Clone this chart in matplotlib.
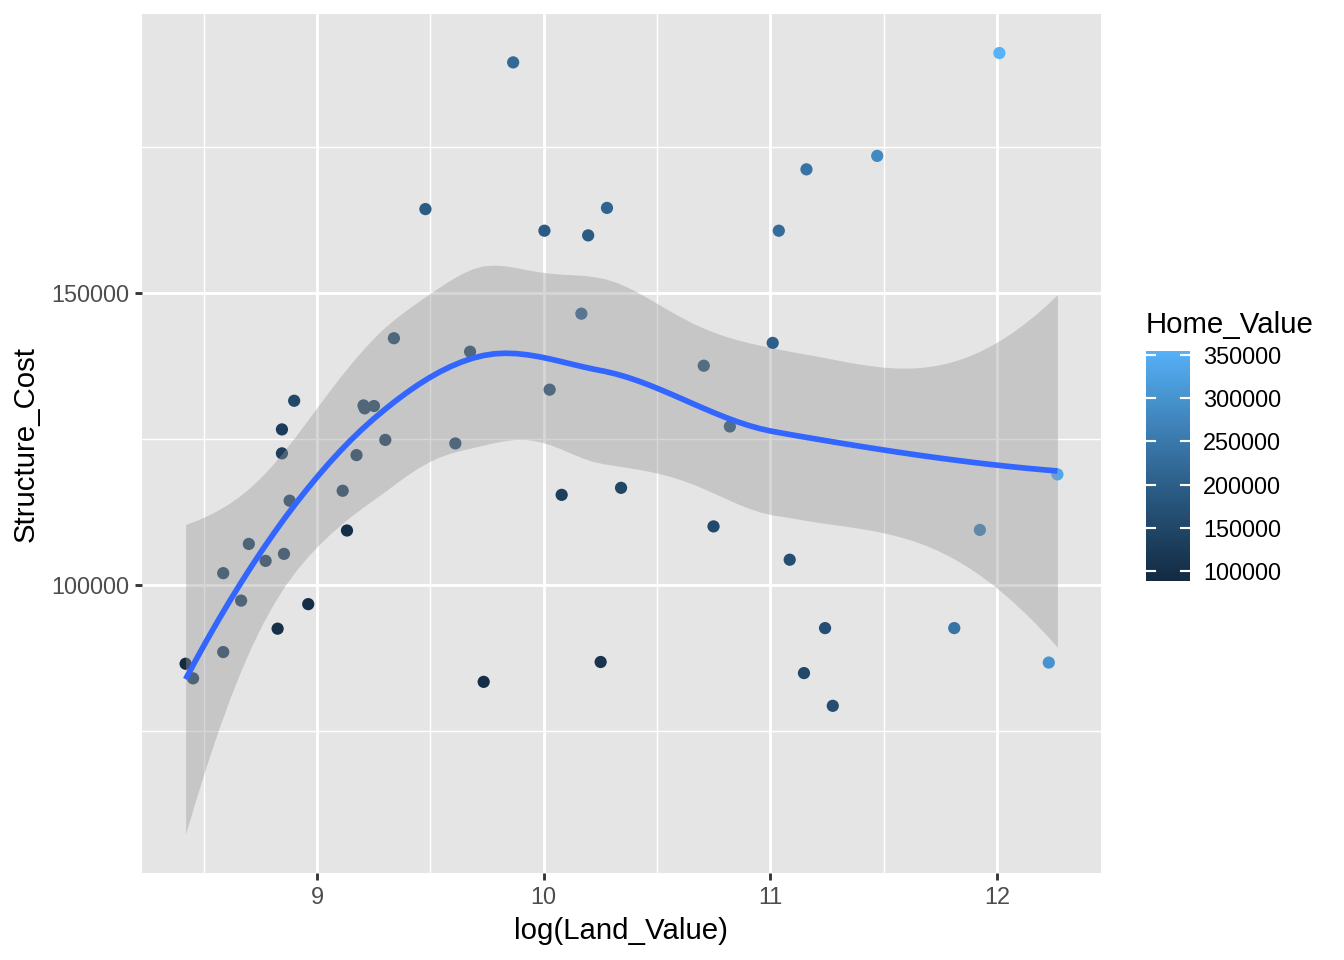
import numpy as np
import matplotlib
matplotlib.use("Agg")
import matplotlib.pyplot as plt
from matplotlib.colors import ListedColormap, Normalize

plt.rcParams['font.family'] = ['Liberation Sans', 'DejaVu Sans']

# values
land_log = [8.420, 8.453, 8.586, 8.586, 8.665, 8.699, 8.773, 8.826, 8.845, 8.845,
            8.854, 8.879, 8.899, 8.961, 9.113, 9.132, 9.174, 9.205, 9.210, 9.251,
            9.301, 9.339, 9.478, 9.610, 9.675, 9.735, 9.865, 10.003, 10.026, 10.079,
            10.166, 10.196, 10.251, 10.279, 10.341, 10.706, 10.749, 10.821, 11.010, 11.037,
            11.085, 11.148, 11.159, 11.241, 11.275, 11.471, 11.811, 11.924, 12.010, 12.228,
            12.266]
structure_cost = [86500, 84000, 102000, 88500, 97300, 107000, 104100, 92500, 126600, 122500,
                  105300, 114400, 131500, 96700, 116100, 109300, 122200, 130700, 130200, 130600,
                  124800, 142200, 164300, 124200, 139900, 83400, 189400, 160600, 133400, 115400,
                  146400, 159800, 86800, 164500, 116600, 137500, 110000, 127100, 141400, 160600,
                  104300, 84900, 171100, 92600, 79300, 173400, 92600, 109400, 191000, 86700,
                  118900]
home_value = [88400, 140000, 140000, 140000, 140000, 140000, 140000, 100000, 125000, 130000,
              140000, 140000, 150000, 95000, 135000, 95000, 140000, 145000, 145000, 145000,
              140000, 150000, 190000, 150000, 150000, 95000, 220000, 190000, 160000, 130000,
              200000, 190000, 110000, 210000, 145000, 170000, 155000, 170000, 200000, 225000,
              165000, 150000, 240000, 165000, 165000, 280000, 240000, 260000, 354600, 300000,
              335000]
legend_breaks = [100000, 150000, 200000, 250000, 300000, 350000]


def to_lab(rgb):
    c = np.where(rgb > 0.04045, ((rgb + 0.055) / 1.055) ** 2.4, rgb / 12.92)
    m = np.array([[0.4124, 0.3576, 0.1805], [0.2126, 0.7152, 0.0722], [0.0193, 0.1192, 0.9505]])
    xyz = m @ c / np.array([0.95047, 1.0, 1.08883])
    f = np.where(xyz > 0.008856, np.cbrt(xyz), 7.787 * xyz + 16 / 116)
    return np.array([116 * f[1] - 16, 500 * (f[0] - f[1]), 200 * (f[1] - f[2])])


def from_lab(lab):
    fy = (lab[0] + 16) / 116
    f = np.array([fy + lab[1] / 500, fy, fy - lab[2] / 200])
    xyz = np.where(f ** 3 > 0.008856, f ** 3, (f - 16 / 116) / 7.787) * np.array([0.95047, 1.0, 1.08883])
    m = np.array([[3.2406, -1.5372, -0.4986], [-0.9689, 1.8758, 0.0415], [0.0557, -0.2040, 1.0570]])
    c = m @ xyz
    c = np.where(c > 0.0031308, 1.055 * np.abs(c) ** (1 / 2.4) - 0.055, 12.92 * c)
    return np.clip(c, 0, 1)


def gradient_cmap(low, high, n=256):
    a = to_lab(np.array(matplotlib.colors.to_rgb(low)))
    b = to_lab(np.array(matplotlib.colors.to_rgb(high)))
    return ListedColormap([from_lab(a + (b - a) * t) for t in np.linspace(0, 1, n)])


def loess(x, y, grid, span=0.75, cell=0.2):
    '''
    local quadratic fit with tricube weights, evaluated on kd-tree vertices
    and joined by cubic Hermite pieces, like R loess(surface="interpolate")
    '''
    n = len(x)
    q = int(np.floor(n * span))
    fc = int(np.floor(n * span * cell))

    def rows(x0):
        d = np.abs(x - x0)
        h = np.sort(d)[q - 1]
        w = np.where(d < h, (1 - (d / h) ** 3) ** 3, 0.0)
        X = np.column_stack([np.ones(n), x - x0, (x - x0) ** 2])
        A = X.T @ (X * w[:, None])
        S = np.linalg.solve(A, (X * w[:, None]).T)
        return S[0], S[1]

    xs = np.sort(x)
    mu = 0.005 * (xs[-1] - xs[0])
    verts = {xs[0] - mu, xs[-1] + mu}

    def split(pts, lo, hi):
        if len(pts) <= fc:
            return
        m = (len(pts) + 1) // 2 - 1
        while m > 0 and pts[m - 1] == pts[m]:
            m -= 1
        v = pts[m]
        if v == lo or v == hi:
            return
        verts.add(v)
        split(pts[:m + 1], lo, v)
        split(pts[m + 1:], v, hi)

    split(xs, xs[0] - mu, xs[-1] + mu)
    vx = np.array(sorted(verts))
    vrows = [rows(v) for v in vx]

    def interp_row(x0):
        j = min(max(np.searchsorted(vx, x0) - 1, 0), len(vx) - 2)
        a, b = vx[j], vx[j + 1]
        hlen = b - a
        t = (x0 - a) / hlen
        h00 = 2 * t ** 3 - 3 * t ** 2 + 1
        h10 = t ** 3 - 2 * t ** 2 + t
        h01 = -2 * t ** 3 + 3 * t ** 2
        h11 = t ** 3 - t ** 2
        return (h00 * vrows[j][0] + h10 * hlen * vrows[j][1]
                + h01 * vrows[j + 1][0] + h11 * hlen * vrows[j + 1][1])

    L = np.array([interp_row(v) for v in x])
    res = y - L @ y
    M = (np.eye(n) - L).T @ (np.eye(n) - L)
    one_delta = np.trace(M)
    two_delta = np.trace(M @ M)
    sigma = np.sqrt(np.sum(res ** 2) / one_delta)
    df = one_delta ** 2 / two_delta
    G = np.array([interp_row(v) for v in grid])
    fit = G @ y
    se = sigma * np.sqrt(np.sum(G ** 2, axis=1))
    return fit, se, df


def t_quantile(df):
    # 97.5% quantile of t distribution (Cornish-Fisher expansion)
    z = 1.959964
    return (z + (z ** 3 + z) / (4 * df) + (5 * z ** 5 + 16 * z ** 3 + 3 * z) / (96 * df ** 2)
            + (3 * z ** 7 + 19 * z ** 5 + 17 * z ** 3 - 15 * z) / (384 * df ** 3))


x = np.array(land_log)
y = np.array(structure_cost, dtype=float)
hv = np.array(home_value, dtype=float)

grid = np.linspace(x.min(), x.max(), 80)
fit, se, df = loess(x, y, grid)
tq = t_quantile(df)
lo, hi = fit - tq * se, fit + tq * se

cmap = gradient_cmap('#132B43', '#56B1F7')
norm = Normalize(hv.min(), hv.max())

fig = plt.figure(figsize=(7, 5), dpi=192)
ax = fig.add_axes([142 / 1344, 87 / 960, 959 / 1344, 859 / 960])
ax.set_facecolor('#E5E5E5')

ax.scatter(x, y, c=hv, cmap=cmap, norm=norm, s=21, linewidths=0, zorder=3)
ax.fill_between(grid, lo, hi, color='#999999', alpha=0.4, linewidth=0, zorder=4)
ax.plot(grid, fit, color='#3366FF', lw=2.13, zorder=5, solid_capstyle='butt')

xr = x.max() - x.min()
ax.set_xlim(x.min() - 0.05 * xr, x.max() + 0.05 * xr)
ymin, ymax = min(y.min(), lo.min()), max(y.max(), hi.max())
yr = ymax - ymin
ax.set_ylim(ymin - 0.05 * yr, ymax + 0.05 * yr)

ax.set_xticks([9, 10, 11, 12])
ax.set_xticks([8.5, 9.5, 10.5, 11.5], minor=True)
ax.set_yticks([100000, 150000])
ax.set_yticks([75000, 125000, 175000], minor=True)
ax.set_yticklabels(['100000', '150000'])
ax.grid(which='major', color='white', lw=1.07, zorder=1)
ax.grid(which='minor', color='white', lw=0.53, zorder=1)
ax.set_axisbelow(True)
for s in ax.spines.values():
    s.set_visible(False)
ax.tick_params(which='major', length=2.75, width=1.07, color='#333333',
               labelsize=8.8, labelcolor='#4D4D4D', pad=2.2)
ax.tick_params(which='minor', length=0)
ax.set_xlabel('log(Land_Value)', fontsize=11, labelpad=2.75)
ax.set_ylabel('Structure_Cost', fontsize=11, labelpad=4)

# colour bar legend
cax = fig.add_axes([1146 / 1344, 379 / 960, 44 / 1344, 230 / 960])
vals = np.linspace(hv.min(), hv.max(), 300)
cax.imshow(vals[:, None], cmap=cmap, norm=norm, aspect='auto', origin='lower',
           extent=[0, 1, hv.min(), hv.max()])
cax.set_xlim(0, 1)
cax.set_ylim(hv.min(), hv.max())
for b in legend_breaks:
    cax.plot([0, 0.2], [b, b], color='white', lw=0.8)
    cax.plot([0.8, 1], [b, b], color='white', lw=0.8)
cax.set_xticks([])
cax.yaxis.tick_right()
cax.set_yticks(legend_breaks)
cax.set_yticklabels([str(b) for b in legend_breaks])
cax.tick_params(axis='y', length=0, labelsize=8.8, pad=5)
for s in cax.spines.values():
    s.set_visible(False)
fig.text(1146 / 1344, 1 - 325 / 960, 'Home_Value', fontsize=11, va='center', ha='left')

fig.savefig('out.png', dpi=192)
